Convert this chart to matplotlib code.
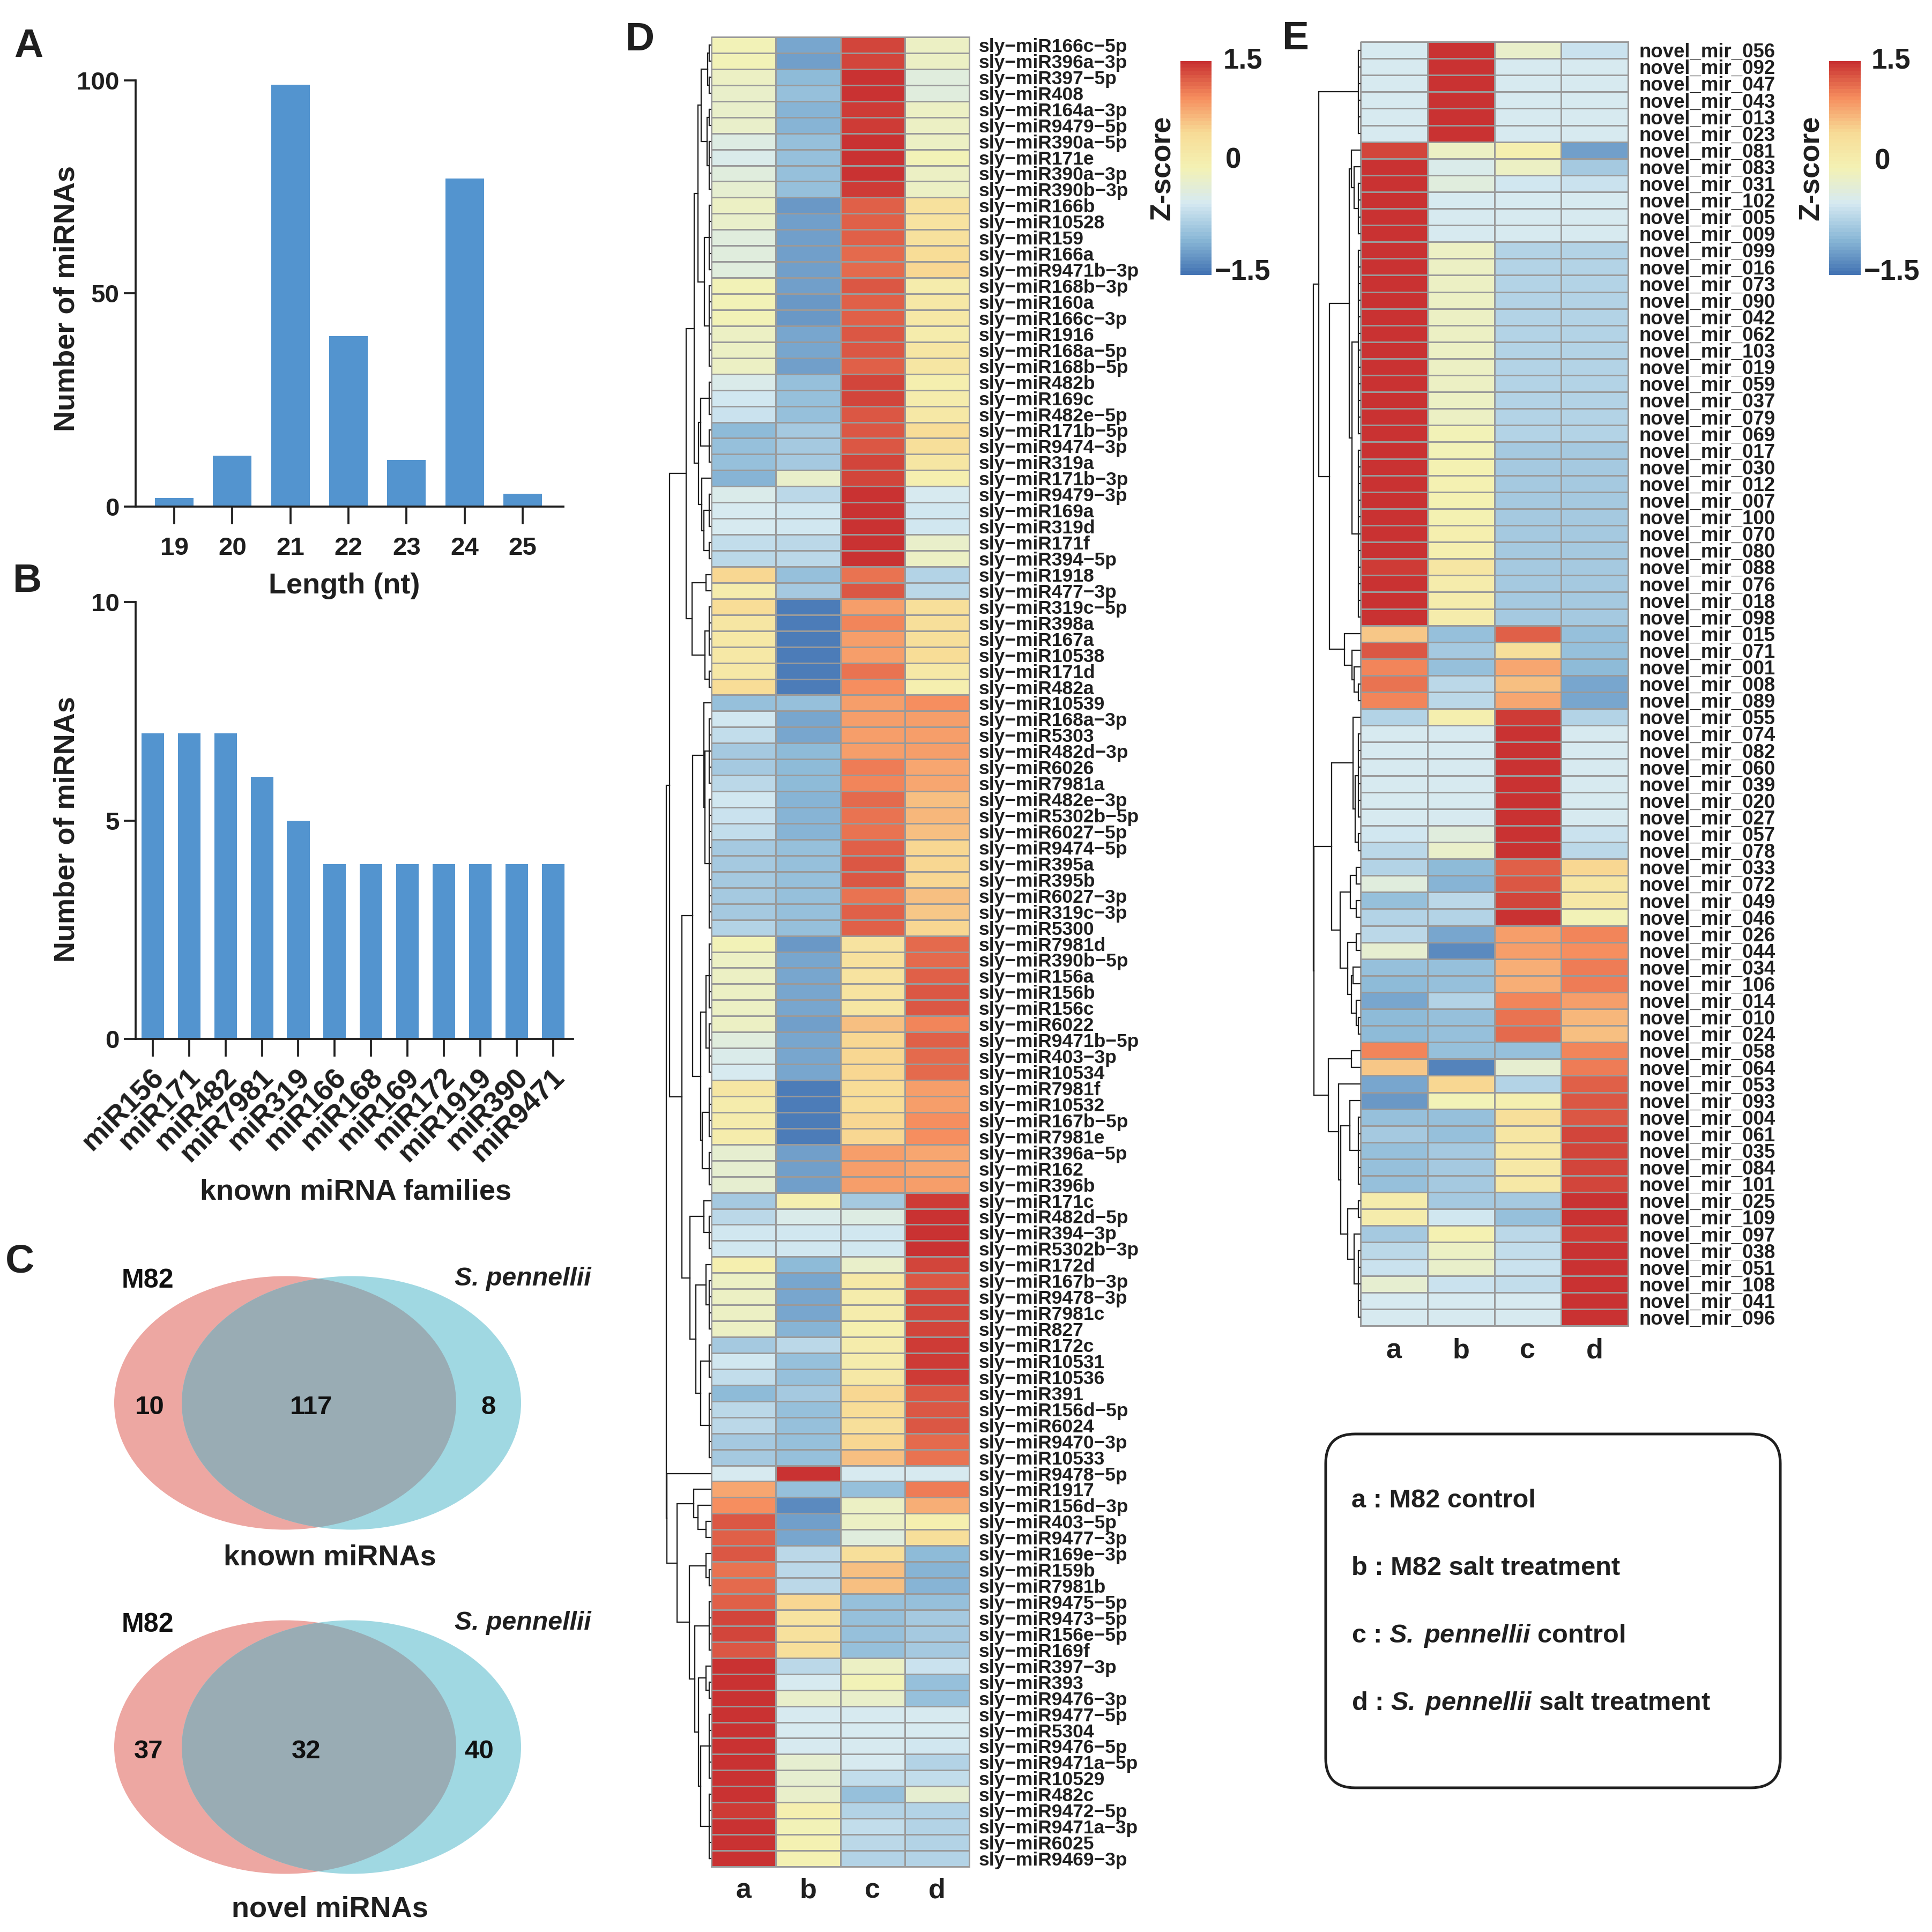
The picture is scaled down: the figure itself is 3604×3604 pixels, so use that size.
import numpy as np
import matplotlib
matplotlib.use('Agg')
import matplotlib.pyplot as plt
from matplotlib.colors import LinearSegmentedColormap
from matplotlib.patches import Ellipse, FancyBboxPatch
from matplotlib.transforms import ScaledTranslation

plt.rcParams['font.family'] = ['Liberation Sans', 'DejaVu Sans']
plt.rcParams['font.weight'] = 'bold'
plt.rcParams['mathtext.fontset'] = 'custom'
plt.rcParams['mathtext.rm'] = 'Liberation Sans:bold'
plt.rcParams['mathtext.bf'] = 'Liberation Sans:bold'
plt.rcParams['mathtext.bfit'] = 'Liberation Sans:italic:bold'

W, H = 3604, 3604
DARK = '#1f1f1f'
BAR = '#5394CF'

#%% data
length_nt = [19, 20, 21, 22, 23, 24, 25]
length_count = [2, 12, 99, 40, 11, 77, 3]

families = ['miR156', 'miR171', 'miR482', 'miR7981', 'miR319', 'miR166', 'miR168',
            'miR169', 'miR172', 'miR1919', 'miR390', 'miR9471']
family_count = [7, 7, 7, 6, 5, 4, 4, 4, 4, 4, 4, 4]

known_venn = [10, 117, 8]
novel_venn = [37, 32, 40]

d_labels = '''166c-5p 396a-3p 397-5p 408 164a-3p 9479-5p 390a-5p 171e 390a-3p 390b-3p
166b 10528 159 166a 9471b-3p 168b-3p 160a 166c-3p 1916 168a-5p
168b-5p 482b 169c 482e-5p 171b-5p 9474-3p 319a 171b-3p 9479-3p 169a
319d 171f 394-5p 1918 477-3p 319c-5p 398a 167a 10538 171d
482a 10539 168a-3p 5303 482d-3p 6026 7981a 482e-3p 5302b-5p 6027-5p
9474-5p 395a 395b 6027-3p 319c-3p 5300 7981d 390b-5p 156a 156b
156c 6022 9471b-5p 403-3p 10534 7981f 10532 167b-5p 7981e 396a-5p
162 396b 171c 482d-5p 394-3p 5302b-3p 172d 167b-3p 9478-3p 7981c
827 172c 10531 10536 391 156d-5p 6024 9470-3p 10533 9478-5p
1917 156d-3p 403-5p 9477-3p 169e-3p 159b 7981b 9475-5p 9473-5p 156e-5p
169f 397-3p 393 9476-3p 9477-5p 5304 9476-5p 9471a-5p 10529 482c
9472-5p 9471a-3p 6025 9469-3p'''.split()
d_labels = ['sly\u2212miR' + s.replace('-', '\u2212') for s in d_labels]

d_a = [-0.05,-0.05,-0.15,-0.2,-0.2,-0.2,-0.4,-0.45,-0.3,-0.25,
       -0.15,-0.2,-0.3,-0.3,-0.35,-0.05,-0.05,-0.05,-0.1,-0.15,
       -0.15,-0.45,-0.55,-0.6,-1.0,-0.9,-0.95,-1.05,-0.45,-0.5,
       -0.5,-0.65,-0.7,0.5,0.1,0.45,0.25,0.2,0.2,0.2,
       0.45,-0.9,-0.55,-0.65,-0.8,-0.8,-0.7,-0.55,-0.6,-0.65,
       -0.85,-0.85,-0.85,-0.8,-0.8,-0.75,-0.05,-0.15,-0.15,-0.1,
       -0.1,-0.15,-0.3,-0.45,-0.5,0.25,0.15,0.1,0.1,-0.25,
       -0.25,-0.25,-0.85,-0.7,-0.55,-0.55,0.05,-0.1,-0.1,-0.1,
       -0.15,-0.85,-0.55,-0.65,-1.0,-0.7,-0.7,-0.85,-0.8,-0.5,
       0.8,0.95,1.25,1.2,1.3,1.1,1.15,1.2,1.35,1.35,
       1.3,1.45,1.45,1.45,1.5,1.5,1.5,1.5,1.5,1.5,
       1.4,1.45,1.45,1.45]
d_b = [-1.15,-1.2,-1.0,-0.95,-1.05,-1.05,-0.95,-0.95,-0.95,-0.95,
       -1.25,-1.2,-1.2,-1.2,-1.2,-1.2,-1.25,-1.25,-1.15,-1.15,
       -1.2,-0.95,-0.95,-0.9,-0.8,-0.8,-0.8,-0.2,-0.7,-0.55,
       -0.55,-0.7,-0.7,-0.9,-0.85,-1.45,-1.45,-1.45,-1.45,-1.45,
       -1.45,-0.9,-1.1,-1.1,-1.0,-1.0,-1.0,-1.05,-1.05,-1.05,
       -0.9,-0.9,-0.9,-0.95,-0.95,-0.95,-1.25,-1.15,-1.15,-1.15,
       -1.15,-1.2,-1.1,-1.1,-1.1,-1.45,-1.45,-1.45,-1.45,-1.2,
       -1.2,-1.2,0.05,-0.45,-0.55,-0.55,-1.0,-1.15,-1.1,-1.1,
       -1.05,-0.7,-0.9,-0.9,-0.8,-0.95,-0.95,-0.95,-0.95,1.5,
       -0.95,-1.3,-1.2,-1.15,-0.7,-0.7,-0.7,0.5,0.3,0.35,
       0.4,-0.7,-0.5,-0.2,-0.5,-0.5,-0.5,-0.25,-0.25,-0.2,
       0.05,-0.05,0.0,0.0]
d_c = [1.35,1.35,1.45,1.45,1.4,1.4,1.45,1.45,1.45,1.4,
       1.2,1.2,1.2,1.15,1.15,1.25,1.2,1.2,1.3,1.25,
       1.2,1.35,1.35,1.3,1.25,1.3,1.35,1.35,1.45,1.5,
       1.5,1.45,1.45,1.1,1.3,0.85,1.0,0.9,0.9,1.1,
       0.95,0.85,0.9,0.9,0.9,1.05,1.0,1.15,1.1,1.1,
       1.2,1.25,1.25,1.1,1.2,1.2,0.3,0.35,0.3,0.3,
       0.25,0.65,0.5,0.55,0.55,0.45,0.45,0.5,0.5,0.9,
       0.9,0.85,-0.85,-0.4,-0.55,-0.55,-0.2,0.2,0.1,0.1,
       0.05,0.1,0.1,0.2,0.5,0.45,0.4,0.55,0.65,-0.5,
       -0.9,-0.15,-0.1,-0.3,0.4,0.65,0.65,-0.95,-0.9,-0.9,
       -0.9,-0.1,-0.05,-0.2,-0.5,-0.5,-0.5,-0.5,-0.65,-0.95,
       -0.75,-0.65,-0.7,-0.75]
d_d = [-0.15,-0.1,-0.35,-0.3,-0.1,-0.1,-0.1,-0.05,-0.15,-0.15,
       0.35,0.3,0.35,0.45,0.5,0.1,0.2,0.2,0.1,0.25,
       0.25,0.05,0.15,0.2,0.45,0.4,0.25,0.05,-0.5,-0.55,
       -0.55,-0.2,-0.15,-0.75,-0.7,0.4,0.4,0.4,0.45,0.2,
       0.05,0.95,0.85,0.85,0.85,0.8,0.8,0.65,0.7,0.65,
       0.55,0.5,0.5,0.65,0.6,0.55,1.15,1.15,1.2,1.25,
       1.25,1.0,1.2,1.15,1.15,0.9,0.9,0.95,0.95,0.8,
       0.8,0.85,1.4,1.45,1.5,1.5,1.35,1.25,1.35,1.35,
       1.35,1.4,1.4,1.4,1.25,1.25,1.25,1.15,1.1,-0.5,
       1.05,0.75,0.05,0.4,-1.0,-1.05,-1.05,-0.9,-0.85,-0.85,
       -0.85,-0.6,-0.9,-0.95,-0.5,-0.5,-0.55,-0.75,-0.65,-0.25,
       -0.75,-0.75,-0.75,-0.75]

e_ids = '''056 092 047 043 013 023 081 083 031 102 005 009 099 016 073 090 042 062 103 019
059 037 079 069 017 030 012 007 100 070 080 088 076 018 098 015 071 001 008 089
055 074 082 060 039 020 027 057 078 033 072 049 046 026 044 034 106 014 010 024
058 064 053 093 004 061 035 084 101 025 109 097 038 051 108 041 096'''.split()
e_labels = ['novel_mir_' + s for s in e_ids]

e_a = [-0.5,-0.5,-0.5,-0.5,-0.5,-0.5,1.35,1.5,1.5,1.5,
       1.5,1.5,1.5,1.5,1.5,1.5,1.5,1.5,1.5,1.5,
       1.5,1.5,1.5,1.5,1.5,1.5,1.5,1.5,1.5,1.5,
       1.45,1.4,1.45,1.45,1.45,0.6,1.25,1.0,1.1,1.0,
       -0.75,-0.5,-0.5,-0.5,-0.5,-0.5,-0.5,-0.55,-0.7,-0.75,
       -0.3,-0.95,-0.75,-0.7,-0.25,-0.95,-1.0,-1.1,-1.0,-1.0,
       1.0,0.6,-1.1,-1.25,-0.9,-0.85,-0.9,-0.9,-0.9,0.1,
       0.1,-0.85,-0.7,-0.6,-0.25,-0.5,-0.5]
e_b = [1.5,1.5,1.5,1.5,1.5,1.5,-0.1,-0.45,-0.3,-0.5,
       -0.5,-0.5,-0.15,-0.15,-0.15,-0.15,-0.1,-0.1,-0.1,-0.1,
       -0.1,-0.1,-0.1,-0.05,-0.05,0.0,0.0,0.0,0.0,0.05,
       0.05,0.25,0.15,0.1,0.1,-0.9,-0.85,-0.95,-0.7,-0.7,
       0.05,-0.5,-0.5,-0.5,-0.5,-0.5,-0.5,-0.3,-0.2,-1.0,
       -1.05,-0.7,-0.75,-1.1,-1.3,-0.9,-0.9,-0.75,-0.9,-0.9,
       -0.95,-1.35,0.5,-0.05,-0.9,-0.9,-0.85,-0.85,-0.85,-0.8,
       -0.55,0.0,-0.15,-0.2,-0.6,-0.5,-0.5]
e_c = [-0.2,-0.5,-0.5,-0.5,-0.5,-0.5,0.05,-0.1,-0.55,-0.5,
       -0.5,-0.5,-0.75,-0.75,-0.75,-0.75,-0.75,-0.75,-0.75,-0.75,
       -0.75,-0.75,-0.75,-0.75,-0.8,-0.8,-0.8,-0.8,-0.8,-0.8,
       -0.8,-0.85,-0.85,-0.8,-0.8,1.2,0.4,0.8,0.65,0.8,
       1.4,1.5,1.5,1.5,1.5,1.5,1.5,1.5,1.5,1.2,
       1.3,1.35,1.45,0.85,0.85,0.75,0.75,1.0,1.1,1.15,
       -0.9,-0.25,-0.75,0.05,0.4,0.25,0.2,0.2,0.2,-0.8,
       -0.95,-0.7,-0.65,-0.6,-0.65,-0.5,-0.5]
e_d = [-0.6,-0.5,-0.5,-0.5,-0.5,-0.5,-1.2,-0.85,-0.6,-0.5,
       -0.5,-0.5,-0.75,-0.75,-0.75,-0.75,-0.75,-0.75,-0.75,-0.75,
       -0.75,-0.75,-0.75,-0.75,-0.8,-0.8,-0.8,-0.8,-0.8,-0.8,
       -0.8,-0.85,-0.85,-0.85,-0.85,-0.95,-0.9,-1.0,-1.1,-1.15,
       -0.75,-0.5,-0.5,-0.5,-0.5,-0.5,-0.5,-0.6,-0.7,0.5,
       0.25,0.2,-0.05,1.0,0.95,1.05,1.05,0.9,0.7,0.65,
       1.0,1.05,1.2,1.3,1.3,1.35,1.35,1.35,1.35,1.45,
       1.45,1.4,1.45,1.5,1.5,1.5,1.5]

# dendrograms: (merge height, upper child, lower child), an int is a tight run of leaves
d_group1 = (47, (32, (25, (19, (7, 2, 2), (8, 2, 4)), (13, 5, 6)),
                 (24, (20, 3, 3), (18, 1, (14, 3, 2)))),
            (36, (10, 1, 1), (12, 4, 2)))
d_group2 = (35, (14, 1, (12, 5, 9)), (20, (10, 5, 4), (17, 4, 3)))
d_group3 = (40, (14, 1, 3), (29, (10, 1, 4), (20, 3, 5)))
d_group4 = (64, (33, 1, (25, 1, (10, 1, 1))),
            (41, (10, 1, 2), (31, 4, (24, (10, 1, 2), (20, 5, 5)))))
d_tree = (84, (78, d_group1, (55, d_group2, d_group3)), (83, 1, d_group4))

e_group1 = (58, (21, (17, 1, (12, 1, 4)), (16, 12, 11)),
            (30, 1, (16, 1, (12, 1, 2))))
e_group2 = (54, (14, 1, (10, 6, 2)),
            (38, (19, (8, 1, 1), (8, 1, 1)),
             (24, (8, 1, 1), (17, (14, 1, 1), (8, 1, 2)))))
e_group3 = (60, (17, 1, 1),
            (41, 1, (37, (20, 1, 5), (24, 2, (12, 1, 5)))))
e_tree = (88, (78, 6, e_group1), (87, e_group2, e_group3))

#%% helpers
pal = ['#4575B4', '#8DBAD8', '#D6EAF2', '#F4F2B4', '#F8DC96', '#F68D5E', '#C93232']
cmap = LinearSegmentedColormap.from_list('zscore', pal, N=60)

fig = plt.figure(figsize=(W / 300, H / 300), dpi=300, facecolor='white')


def px_axes(left, top, right, bottom):
    return fig.add_axes([left / W, 1 - bottom / H, (right - left) / W, (bottom - top) / H])


def px_text(x, y, s, size, **kw):
    kw.setdefault('ha', 'center')
    kw.setdefault('va', 'center')
    kw.setdefault('color', DARK)
    fig.text(x / W, 1 - y / H, s, fontsize=size, fontweight='bold', **kw)


def draw_tree(ax, node, row):
    if isinstance(node, int):
        ys = row + 0.5 + np.arange(node)
        if node == 1:
            return ys[0], 0, row + 1
        for y in ys:
            ax.plot([0, 4], [y, y], color=DARK, lw=0.55, solid_capstyle='butt')
        ax.plot([4, 4], [ys[0], ys[-1]], color=DARK, lw=0.55)
        return ys.mean(), 4, row + node
    h, upper, lower = node
    y1, x1, row = draw_tree(ax, upper, row)
    y2, x2, row = draw_tree(ax, lower, row)
    ax.plot([x1, h, h, x2], [y1, y1, y2, y2], color=DARK, lw=0.55, solid_joinstyle='miter')
    return (y1 + y2) / 2, h, row


def heatmap(cols, labels, tree, left, top, right, bottom, label_size, label_pad, col_pad):
    z = np.array(cols).T
    n = z.shape[0]
    ax = px_axes(left, top, right, bottom)
    ax.pcolormesh(np.arange(5), np.arange(n + 1), z, cmap=cmap, vmin=-1.5, vmax=1.5,
                  edgecolors='#9a9a9a', linewidth=0.6, clip_on=False)
    ax.set_ylim(n, 0)
    ax.set_xlim(0, 4)
    ax.yaxis.tick_right()
    ax.set_yticks(np.arange(n) + 0.5, labels, fontsize=label_size, color=DARK)
    ax.set_xticks(np.arange(4) + 0.5, ['a', 'b', 'c', 'd'], fontsize=12.5, color=DARK)
    ax.tick_params(length=0, pad=label_pad)
    ax.tick_params(axis='x', pad=col_pad)
    for s in ax.spines.values():
        s.set_visible(False)
    tree_ax = px_axes(left - 100, top, left, bottom)
    draw_tree(tree_ax, tree, 0)
    tree_ax.set_xlim(100, 0)
    tree_ax.set_ylim(n, 0)
    tree_ax.axis('off')


def zbar(left, top, right, bottom, tx, ty):
    ax = px_axes(left, top, right, bottom)
    grad = np.linspace(-1.5, 1.5, 60).reshape(-1, 1)
    ax.imshow(grad, cmap=cmap, vmin=-1.5, vmax=1.5, origin='lower', aspect='auto')
    ax.axis('off')
    px_text(tx[0], ty[0], '1.5', 12.7, ha='left')
    px_text(tx[1], ty[1], '0', 12.7, ha='left')
    px_text(tx[2], ty[2], '\u22121.5', 12.7, ha='left')
    px_text(left - 34, 313, 'Z-score', 13, rotation=90)


def style_bars(ax, ytick_pad=2):
    for s in ['top', 'right']:
        ax.spines[s].set_visible(False)
    for s in ['left', 'bottom']:
        ax.spines[s].set_linewidth(0.9)
        ax.spines[s].set_color(DARK)
    ax.tick_params(axis='y', length=5.3, width=0.9, pad=ytick_pad, labelsize=11.4, color=DARK,
                   labelcolor=DARK)
    ax.tick_params(axis='x', length=8, width=0.9, color=DARK, labelcolor=DARK)


#%% A
ax = px_axes(253, 150, 1051, 945)
ax.bar(length_nt, length_count, width=0.665, color=BAR)
ax.set_xlim(18.335, 25.70)
ax.set_ylim(0, 100)
ax.set_yticks([0, 50, 100])
ax.set_xticks(length_nt)
style_bars(ax)
ax.tick_params(axis='x', labelsize=11.4, pad=5.5)
px_text(125, 557, 'Number of miRNAs', 13, rotation=90)
px_text(642, 1093, 'Length (nt)', 13)

#%% B
ax = px_axes(253, 1123, 1069, 1938)
ax.bar(np.arange(len(families)), family_count, width=0.62, color=BAR)
ax.set_xlim(-0.471, 11.55)
ax.set_ylim(0, 10)
ax.set_yticks([0, 5, 10])
ax.set_xticks(np.arange(len(families)), families, rotation=45, ha='right',
              rotation_mode='anchor', fontsize=13)
style_bars(ax)
ax.tick_params(axis='x', pad=3)
shift = ScaledTranslation(-5 / 300, 0, fig.dpi_scale_trans)
for lab in ax.get_xticklabels():
    lab.set_transform(lab.get_transform() + shift)
px_text(125, 1547, 'Number of miRNAs', 13, rotation=90)
px_text(664, 2223, 'known miRNA families', 13)

#%% C
venn_ax = px_axes(0, 2300, 1200, 3604)
venn_ax.set_xlim(0, 1200)
venn_ax.set_ylim(3604, 2300)
venn_ax.axis('off')
for cy, counts, xs, title, ty in [(2617, known_venn, (279, 580, 911), 'known miRNAs', 2905),
                                  (3259, novel_venn, (277, 571, 894), 'novel miRNAs', 3562)]:
    pink = Ellipse((532, cy), 638, 473, color='#EDA7A2', lw=0)
    teal = Ellipse((655.5, cy), 633, 473, color='#A0D8E2', lw=0)
    venn_ax.add_patch(pink)
    venn_ax.add_patch(teal)
    both = Ellipse((532, cy), 638, 473, color='#99ACB4', lw=0)
    venn_ax.add_patch(both)
    both.set_clip_path(teal)
    for x, c in zip(xs, counts):
        px_text(x, cy + 8, str(c), 11.8, color='#111111')
    px_text(275, cy - 228, 'M82', 12, color='#111111')
    px_text(1103, cy - 232, 'S. pennellii', 11.6, ha='right', style='italic')
    px_text(615, ty, title, 13)

#%% D, E
heatmap([d_a, d_b, d_c, d_d], d_labels, d_tree, 1327, 69, 1808, 3482, 8.5, 4.3, 5)
zbar(2202, 114, 2260, 513, (2282, 2286, 2266), (113, 300, 508))

heatmap([e_a, e_b, e_c, e_d], e_labels, e_tree, 2538, 78, 3037, 2473, 8.8, 4.8, 5.5)
zbar(3412, 114, 3471, 513, (3491, 3497, 3477), (114, 301, 507))

#%% legend box
box_ax = px_axes(0, 0, W, H)
box_ax.set_xlim(0, W)
box_ax.set_ylim(H, 0)
box_ax.axis('off')
box_ax.patch.set_alpha(0)
box_ax.add_patch(FancyBboxPatch((2473 + 55, 2675 + 55), 848 - 110, 660 - 110,
                                boxstyle='round,pad=55,rounding_size=55',
                                fc='none', ec=DARK, lw=1.2))
it = r'$\mathbfit{S.\,pennellii}$'
for y, s in zip([2799, 2925, 3052, 3178],
                ['a : M82 control', 'b : M82 salt treatment', 'c : ' + it + ' control',
                 'd : ' + it + ' salt treatment']):
    px_text(2521, y, s, 11.7, ha='left')

#%% panel letters
for x, y, s in [(53, 86, 'A'), (51, 1085, 'B'), (37, 2354, 'C'), (1194, 74, 'D'), (2417, 72, 'E')]:
    px_text(x, y, s, 18)

fig.savefig('out.png', dpi=300)
